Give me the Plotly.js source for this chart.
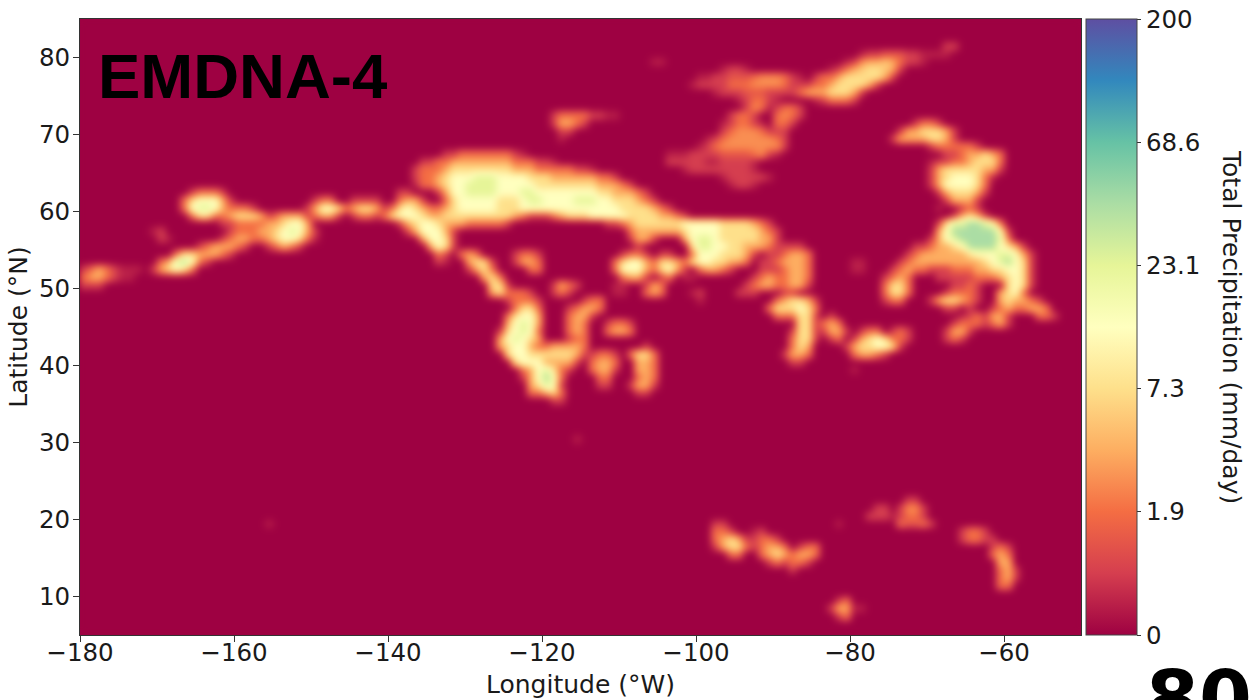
<!DOCTYPE html>
<html><head><meta charset="utf-8">
<script src="https://cdn.plot.ly/plotly-3.0.1.min.js"></script>
<style>html,body{margin:0;padding:0;background:#fff;overflow:hidden}#chart{width:1254px;height:700px}.hm image{filter:blur(3px)}</style>
</head><body><div id="chart"></div>
<script>
// Grid cells are 1 degree, rows run from 84.5N down to 5.5N. Each row lists "column:levels";
// digits are tenths of the colour position, a-e add half steps.
const precipRows = [
"","","",
"112:11",
"101:a11bbb11aaaa",
"74:aa 99:a1c33d3211a",
"83:a11a 97:a123d44d31",
"80:aa11bbb2ccc21a 95:12234444431",
"79:a1111222cccc2111223444431",
"82:a111bbb1111233344431",
"85:a1221a 95:a12221",
"86:1c2a 90:1221",
"61:1222211aa 84:1221 90:2c21",
"61:13321 83:a1221a 90:221 108:1221",
"62:11 83:12ccc2111 106:13344431",
"62:a 81:a12cccccc21 105:133334431",
"80:a12cccccccc1 110:1222221",
"47:1122222221a 76:aaa1111bbbb2c1a 112:11233432",
"44:11223333333322211a 76:11111aa1111a 110:a112234442",
"43:12223444444443332222211a 78:a11111111a 110:1344444331",
"43:122345556665555444333333221 83:a11111a 110:13455542a",
"43:a2234556666555554444444433321 84:a11a 110:13555542",
"14:12221 41:11 46:1355666655566555555554433321 111:1344431",
"13:2455531 30:122 35:1111 41:2331 47:2455555444566555566655444321 112:13331",
"13:2566532221 29:135542344312454322345555544455555555555554444321 111:a 114:121",
"14:24422344431233312331 35:1221 38:12455543344444444432111234445555544443321 113:13431",
"18:112222334553 41:134554333222221 68:1123444444555554444321 111:146677652",
"9:a1 19:122233456531 42:1355531 71:23333334555544444321 111:3577777751",
"10:1a 18:123322345542a 44:35541 71:1331 78:3566544444331 110:13567777762",
"15:1233321 24:12321 45:3541 72:1 79:466554433321111 108:112334577775431",
"12:24433321 46:21 49:232 56:1221 70:1221 75:11 79:255544431 89:112332 107:12333333455566531",
"10:2367521 46:1a 50:3441 56:1332 69:245532443245544332 88:1123332 100:aa 106:123333333334567541",
"0:12321aaa 9:134542 50:1342 58:22 69:2555324531 80:23321 88:1112332 100:aa 105:1232211122233445541",
"0:23321aa 52:342 70:2331 75:12 78:aa 87:12322332 104:1232 111:1111122234541",
"0:111 53:441 61:1321 69:aa 73:132 86:123322331 104:2442 113:1121 120:4541",
"53:342221 61:121 69:aa 73:232 79:a1 85:111 91:11 104:2442 112:12221 119:3452",
"55:12221 65:122 80:a 90:234431 104:122 110:1344321 119:343321",
"56:2442 63:12332 89:2444542 112:11 115:1 118:12322332",
"55:24553 63:2331 90:222441 97:1 114:a12 117:1331 124:221",
"55:35653 63:232 68:1221 93:441 96:232 113:12221231",
"54:145652 63:232 68:2332 92:1441 96:1331 101:122 105:121 112:1331",
"54:356543 63:122 92:2441 97:12 100:13454221 112:121",
"54:345532233332 73:1 92:243 99:13445541",
"55:45544444431 66:1221 71:2442 91:1332 100:23321",
"56:455533331 66:2332 72:332 92:11",
"57:2356421 66:2331 72:332 100:a",
"57:135752 67:22 72:232",
"58:34651 67:11 71:1331",
"58:22342 72:11",
"61:11",
"","","","","64:a","","","","","","","",
"107:11",
"103:11 106:1cc1",
"102:111a 106:1221",
"24:a 82:11 98:a 106:2bb21",
"82:221 87:a1 114:1221",
"82:23431 87:1221 114:12211",
"82:1344212332 93:122 118:121",
"84:22 88:23432332 118:232",
"89:121 92:221 119:33",
"92:1 119:231",
"119:231",
"119:22",
"",
"98:12",
"97:133aa",
"98:12",
"",""
];
const levelLetters = {a:0.05,b:0.15,c:0.25,d:0.35,e:0.45};
const tickLon = [-180,-160,-140,-120,-100,-80,-60];
const tickLat = [10,20,30,40,50,60,70,80];
const barPos = [0,0.2,0.4,0.6,0.8,1];
const barText = ["0","1.9","7.3","23.1","68.6","200"];
const spectral = ["#9e0142","#d53e4f","#f46d43","#fdae61","#fee08b","#ffffbf","#e6f598","#abdda4","#66c2a5","#3288bd","#5e4fa2"];

const nCols = 130;
const z = precipRows.map(r => {
  const row = new Array(nCols).fill(0);
  r.split(" ").filter(Boolean).forEach(seg => {
    const parts = seg.split(":");
    let c = +parts[0];
    for (const ch of parts[1]) { row[c++] = ch in levelLetters ? levelLetters[ch] : (+ch)/10; }
  });
  return row;
}).reverse();

const font = {family:"DejaVu Sans", size:24.5, color:"#1a1a1a"};
const titleFont = {family:"DejaVu Sans", size:25, color:"#1a1a1a"};
const axis = {showgrid:false, zeroline:false, showline:true, mirror:true, linecolor:"#333", linewidth:1,
  ticks:"outside", ticklen:6, tickcolor:"#333", tickfont:font};

Plotly.newPlot("chart", [{
  type:"heatmap", z:z, x0:-179.5, dx:1, y0:5.5, dy:1, zmin:0, zmax:1, zsmooth:"best",
  colorscale: spectral.map((c,i)=>[i/10,c]),
  hoverinfo:"skip",
  colorbar:{x:1.005, xanchor:"left", xref:"paper", y:0, yanchor:"bottom", len:1, lenmode:"fraction",
    thickness:51, thicknessmode:"pixels", xpad:0, ypad:0, outlinecolor:"#444", outlinewidth:1,
    ticks:"outside", ticklen:4, tickcolor:"#333", tickfont:font, tickvals:barPos, ticktext:barText}
}], {
  width:1254, height:700, paper_bgcolor:"#fff", plot_bgcolor:"#9e0142",
  margin:{l:80, r:173, t:19, b:65},
  xaxis:Object.assign({}, axis, {range:[-180,-50], tickmode:"array", tickvals:tickLon, ticklabelstandoff:-10,
    title:{text:"Longitude (°W)", font:titleFont, standoff:9}}),
  yaxis:Object.assign({}, axis, {range:[5,85], tickmode:"array", tickvals:tickLat, ticklabelstandoff:-2,
    title:{text:"Latitude (°N)", font:titleFont, standoff:4}}),
  annotations:[
    {text:"<b>EMDNA-4</b>", xref:"paper", yref:"paper", x:0.016, y:1, xanchor:"left", yanchor:"top", yshift:-20,
     showarrow:false, font:{family:"Liberation Sans", size:63.5, color:"#000"}},
    {text:"Total Precipitation (mm/day)", xref:"paper", yref:"paper", x:1.1508, y:0.5, xanchor:"center", yanchor:"middle",
     textangle:90, showarrow:false, font:titleFont},
    {text:"<b>80</b>", xref:"paper", yref:"paper", x:1.063, y:-0.028, xanchor:"left", yanchor:"top",
     showarrow:false, font:{family:"DejaVu Sans", size:76, color:"#000"}}
  ]
}, {displayModeBar:false, staticPlot:true});
</script>
</body></html>
